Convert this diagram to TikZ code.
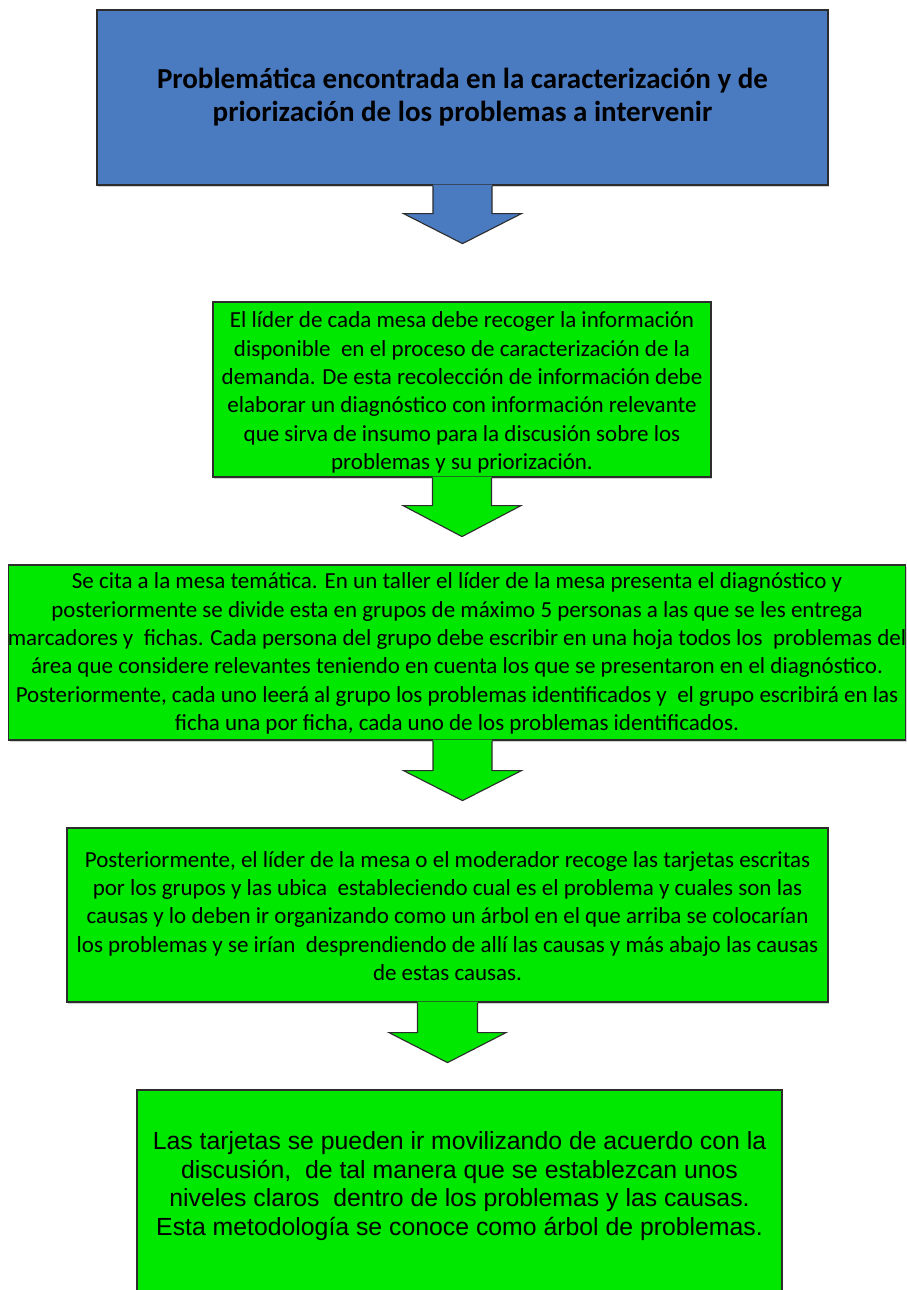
\documentclass[tikz,border=0pt]{standalone}
\usepackage{fontspec}
\setmainfont{Carlito}
\newfontfamily\arialfont{Liberation Sans}
\usetikzlibrary{calc,shadows}
\definecolor{boxblue}{RGB}{74,122,192}
\definecolor{boxgreen}{RGB}{0,232,0}
\definecolor{edgegray}{RGB}{45,45,45}
\tikzset{
  panel/.style={draw=edgegray, line width=1.2pt, align=center, inner sep=0pt,
    drop shadow={shadow xshift=1pt, shadow yshift=-1.5pt, opacity=0.35}},
  bluepanel/.style={panel, fill=boxblue, font=\fontsize{29}{33}\selectfont\bfseries},
  greenpanel/.style={panel, fill=boxgreen},
  greentext/.style={align=center, inner sep=0pt, font=\fontsize{23}{28.4}\selectfont},
  arialtext/.style={align=center, inner sep=0pt, font=\arialfont\fontsize{24.8}{28.7}\selectfont},
  blockarrow/.style={draw=edgegray, line width=1.1pt, line join=miter}
}
\begin{document}
\begin{tikzpicture}[x=1pt,y=-1pt]
\clip (0,0) rectangle (907,1290);
\fill[white] (0,0) rectangle (907,1290);

% boxes
\node[bluepanel, minimum width=731pt, minimum height=175pt] (b1) at (462.5,97.5)
  {Problemática encontrada en la caracterización y de\\priorización de los problemas a intervenir};

\node[greenpanel, minimum width=498pt, minimum height=175pt] (b2) at (462,389.5) {};
\node[greentext] (t2) at (462,392.5)
  {El líder de cada mesa debe recoger la información\\
   disponible\ \ en el proceso de caracterización de la\\
   demanda. De esta recolección de información debe\\
   elaborar un diagnóstico con información relevante\\
   que sirva de insumo para la discusión sobre los\\
   problemas y su priorización.};

\node[greenpanel, minimum width=897pt, minimum height=175pt] (b3) at (457,652.5) {};
\node[greentext] (t3) at (457,653.5)
  {Se cita a la mesa temática. En un taller el líder de la mesa presenta el diagnóstico y\\
   posteriormente se divide esta en grupos de máximo 5 personas a las que se les entrega\\
   marcadores y\ \ fichas. Cada persona del grupo debe escribir en una hoja todos los\ \ problemas del\\
   área que considere relevantes teniendo en cuenta los que se presentaron en el diagnóstico.\\
   Posteriormente, cada uno leerá al grupo los problemas identificados y\ \ el grupo escribirá en las\\
   ficha una por ficha, cada uno de los problemas identificados.};

\node[greenpanel, minimum width=761pt, minimum height=174pt] (b4) at (447.5,915) {};
\node[greentext] (t4) at (447.5,916)
  {Posteriormente, el líder de la mesa o el moderador recoge las tarjetas escritas\\
   por los grupos y las ubica\ \ estableciendo cual es el problema y cuales son las\\
   causas y lo deben ir organizando como un árbol en el que arriba se colocarían\\
   los problemas y se irían\ \ desprendiendo de allí las causas y más abajo las causas\\
   de estas causas.};

\node[greenpanel, minimum width=645pt, minimum height=220pt] (b5) at (459.5,1200) {};
\node[arialtext] (t5) at (459.5,1186)
  {Las tarjetas se pueden ir movilizando de acuerdo con la\\
   discusión,\ \ de tal manera que se establezcan unos\\
   niveles claros\ \ dentro de los problemas y las causas.\\
   Esta metodología se conoce como árbol de problemas.};

% block arrows
\fill[boxblue] ($(b1.south)+(-29.5,-1)$) -- ++(0,29) -- ++(-29.5,0) -- ($(b1.south)+(0,58)$)
  -- ($(b1.south)+(59,28)$) -- ++(-29.5,0) -- ++(0,-29) -- cycle;
\draw[blockarrow] ($(b1.south)+(-29.5,0.6)$) -- ++(0,27.4) -- ++(-29.5,0) -- ($(b1.south)+(0,58)$)
  -- ($(b1.south)+(59,28)$) -- ++(-29.5,0) -- ++(0,-27.4);

\fill[boxgreen] ($(b2.south)+(-29.5,-1)$) -- ++(0,29) -- ++(-29.5,0) -- ($(b2.south)+(0,59)$)
  -- ($(b2.south)+(59,28)$) -- ++(-29.5,0) -- ++(0,-29) -- cycle;
\draw[blockarrow] ($(b2.south)+(-29.5,0.6)$) -- ++(0,27.4) -- ++(-29.5,0) -- ($(b2.south)+(0,59)$)
  -- ($(b2.south)+(59,28)$) -- ++(-29.5,0) -- ++(0,-27.4);

\fill[boxgreen] ($(b3.south)+(-24,-1)$) -- ++(0,31) -- ++(-29.5,0) -- ($(b3.south)+(5.5,60)$)
  -- ($(b3.south)+(64.5,30)$) -- ++(-29.5,0) -- ++(0,-31) -- cycle;
\draw[blockarrow] ($(b3.south)+(-24,0.6)$) -- ++(0,29.4) -- ++(-29.5,0) -- ($(b3.south)+(5.5,60)$)
  -- ($(b3.south)+(64.5,30)$) -- ++(-29.5,0) -- ++(0,-29.4);

\fill[boxgreen] ($(b4.south)+(-30,-1)$) -- ++(0,31) -- ++(-28.5,0) -- ($(b4.south)+(0,60)$)
  -- ($(b4.south)+(58.5,30)$) -- ++(-28.5,0) -- ++(0,-31) -- cycle;
\draw[blockarrow] ($(b4.south)+(-30,0.6)$) -- ++(0,29.4) -- ++(-28.5,0) -- ($(b4.south)+(0,60)$)
  -- ($(b4.south)+(58.5,30)$) -- ++(-28.5,0) -- ++(0,-29.4);
\end{tikzpicture}
\end{document}
